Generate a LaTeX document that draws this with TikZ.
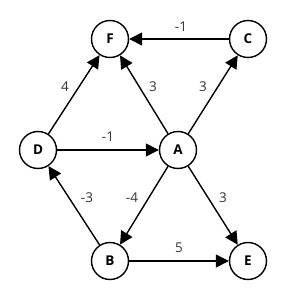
\documentclass[tikz,border=0pt]{standalone}
\usepackage{fontspec}
\setmainfont{Open Sans}
\usetikzlibrary{arrows.meta}
\begin{document}
\begin{tikzpicture}[x=1pt,y=-1pt,
  vtx/.style={circle,draw,line width=1.4pt,minimum size=37pt,inner sep=0pt,font=\fontsize{13.5}{15}\selectfont\bfseries},
  edg/.style={line width=1.4pt,-{Triangle[length=13pt,width=13pt]}},
  lbl/.style={font=\fontsize{13.5}{15}\selectfont,text=black!80,inner sep=0pt}]
\useasboundingbox (0,0) rectangle (300,300);
\node[vtx] (F) at (110,39) {F};
\node[vtx] (C) at (248,39) {C};
\node[vtx] (D) at (38,150) {D};
\node[vtx] (A) at (178,150) {A};
\node[vtx] (B) at (110,261) {B};
\node[vtx] (E) at (248,261) {E};
\draw[edg] (C) -- (F) node[lbl,midway,xshift=2pt,yshift=12pt] {-1};
\draw[edg] (A) -- (F) node[lbl,midway,xshift=9pt,yshift=7.5pt] {3};
\draw[edg] (A) -- (C) node[lbl,midway,xshift=-10pt,yshift=7.5pt] {3};
\draw[edg] (D) -- (F) node[lbl,midway,xshift=-9pt,yshift=7.5pt] {4};
\draw[edg] (D) -- (A) node[lbl,midway,yshift=13pt] {-1};
\draw[edg] (B) -- (D) node[lbl,midway,xshift=13pt,yshift=7.5pt] {-3};
\draw[edg] (A) -- (B) node[lbl,midway,xshift=-12pt,yshift=7.5pt] {-4};
\draw[edg] (A) -- (E) node[lbl,midway,xshift=10pt,yshift=7.5pt] {3};
\draw[edg] (B) -- (E) node[lbl,midway,yshift=13pt] {5};
\end{tikzpicture}
\end{document}
